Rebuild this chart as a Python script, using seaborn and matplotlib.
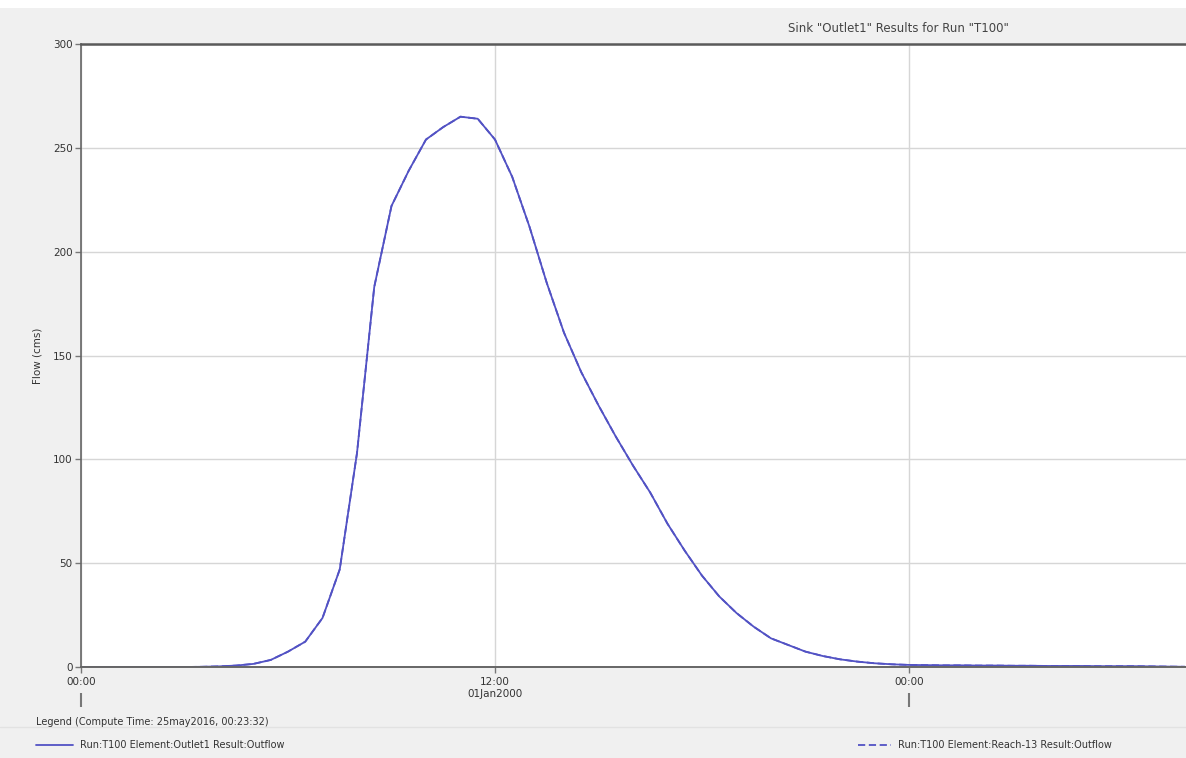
import numpy as np
import pandas as pd
import seaborn as sns
import matplotlib
matplotlib.use("Agg")
import matplotlib.pyplot as plt
from matplotlib.lines import Line2D
from matplotlib.patches import Rectangle

# ---------------- data (hours after 01Jan2000 00:00, flow in cms) ----------------
hours = [i * 0.5 for i in range(65)]
flow_outlet1 = [
    0.0, 0.0, 0.0, 0.0, 0.0, 0.0, 0.0,          # 0.0 - 3.0
    0.1, 0.3, 0.7, 1.5, 3.4, 7.4, 12.2,         # 3.5 - 6.5
    23.6, 47.0, 103.0, 183.0, 222.0, 239.0,     # 7.0 - 9.5
    254.0, 260.0, 265.0, 264.0, 254.0, 236.0,   # 10.0 - 12.5
    212.0, 185.0, 161.0, 142.0, 126.0, 111.0,   # 13.0 - 15.5
    97.0, 84.0, 69.0, 56.0, 44.0, 34.0,         # 16.0 - 18.5
    26.0, 19.4, 13.8, 10.6, 7.4, 5.3,           # 19.0 - 21.5
    3.7, 2.6, 1.8, 1.3, 1.0, 0.9,               # 22.0 - 24.5
    0.8, 0.8, 0.7, 0.7, 0.6, 0.6,               # 25.0 - 27.5
    0.5, 0.5, 0.5, 0.4, 0.4, 0.4,               # 28.0 - 30.5
    0.3, 0.2, 0.1,                              # 31.0 - 32.0
]
flow_reach13 = list(flow_outlet1)  # identical routed outflow (drawn dashed underneath)

y_ticks = [0, 50, 100, 150, 200, 250, 300]
x_ticks = [0, 12, 24]
x_tick_labels = ["00:00", "12:00\n01Jan2000", "00:00"]
day_marks = [0, 24]

title = 'Sink "Outlet1" Results for Run "T100"'
y_label = "Flow (cms)"
legend_title = "Legend (Compute Time: 25may2016, 00:23:32)"
label_outlet = "Run:T100 Element:Outlet1 Result:Outflow"
label_reach = "Run:T100 Element:Reach-13 Result:Outflow"

df = pd.DataFrame({"hours": hours, "outlet": flow_outlet1, "reach": flow_reach13})

# ---------------- styling ----------------
sns.set_theme(style="white")
plt.rcParams["font.family"] = ["DejaVu Sans"]
plt.rcParams["font.size"] = 7

BG = "#f0f0f0"
LINE = "#5252c4"
TXT = "#333333"

W, H = 1186, 758
fig = plt.figure(figsize=(W / 100, H / 100), dpi=100, facecolor=BG)
fig.add_artist(Rectangle((0, 1 - 8 / H), 1, 8 / H, transform=fig.transFigure,
                         facecolor="white", edgecolor="none", zorder=0))

left, right = 81 / W, 1.0
top, bottom = 1 - 44 / H, 1 - 667 / H
ax = fig.add_axes([left, bottom, right - left, top - bottom])
ax.set_facecolor("white")

sns.lineplot(data=df, x="hours", y="reach", ax=ax, color=LINE, lw=1.3,
             linestyle=(0, (4, 2)), label=label_reach, legend=False)
sns.lineplot(data=df, x="hours", y="outlet", ax=ax, color=LINE, lw=1.3,
             label=label_outlet, legend=False)

ax.set_xlim(0, 32.03)
ax.set_ylim(0, 300)
ax.set_yticks(y_ticks)
ax.set_xticks(x_ticks)
ax.set_xticklabels(x_tick_labels, color=TXT, fontsize=7.5, linespacing=1.25)
ax.set_yticklabels([str(v) for v in y_ticks], color=TXT, fontsize=7.5)
ax.set_xlabel("")
ax.set_ylabel(y_label, color=TXT, fontsize=7.5, labelpad=7.5)

ax.grid(True, color="#d6d6d6", lw=1)
ax.tick_params(axis="both", direction="out", length=4, width=1, color="#777777",
               pad=2, left=True, bottom=True)
ax.tick_params(axis="x", pad=3)

for s in ["left", "bottom", "top"]:
    ax.spines[s].set_visible(True)
    ax.spines[s].set_color("#666666")
ax.spines["left"].set_linewidth(1.2)
ax.spines["bottom"].set_linewidth(1.4)
ax.spines["top"].set_linewidth(1.8)
ax.spines["top"].set_color("#5a5a5a")
ax.spines["right"].set_visible(False)

# day-boundary markers below the time labels
sec = ax.secondary_xaxis(location=-26 / 623)
sec.set_xticks(day_marks)
sec.set_xticklabels([])
sec.tick_params(direction="out", length=10, width=1.5, color="#777777")
sec.spines["bottom"].set_visible(False)

# title band
fig.text(898 / W, 1 - 29 / H, title, ha="center", va="center", fontsize=8.5, color="#444444")

# legend area
fig.add_artist(Line2D([0, 1], [1 - 727 / H, 1 - 727 / H], transform=fig.transFigure,
                      color="#e2e2e2", lw=1))
fig.text(36 / W, 1 - 722 / H, legend_title, ha="left", va="center", fontsize=7, color=TXT)

h_reach, h_outlet = ax.get_lines()[0], ax.get_lines()[1]
fig.legend(handles=[h_outlet], labels=[label_outlet], loc="center left",
           bbox_to_anchor=(36 / W, 1 - 745 / H), frameon=False, borderpad=0,
           borderaxespad=0, handlelength=3.8, handletextpad=0.7, fontsize=7,
           labelcolor=TXT)
fig.legend(handles=[h_reach], labels=[label_reach], loc="center right",
           bbox_to_anchor=(1112 / W, 1 - 745 / H), frameon=False, borderpad=0,
           borderaxespad=0, handlelength=3.4, handletextpad=0.7, fontsize=7,
           labelcolor=TXT)

fig.savefig("out.png", dpi=100, facecolor=BG)
